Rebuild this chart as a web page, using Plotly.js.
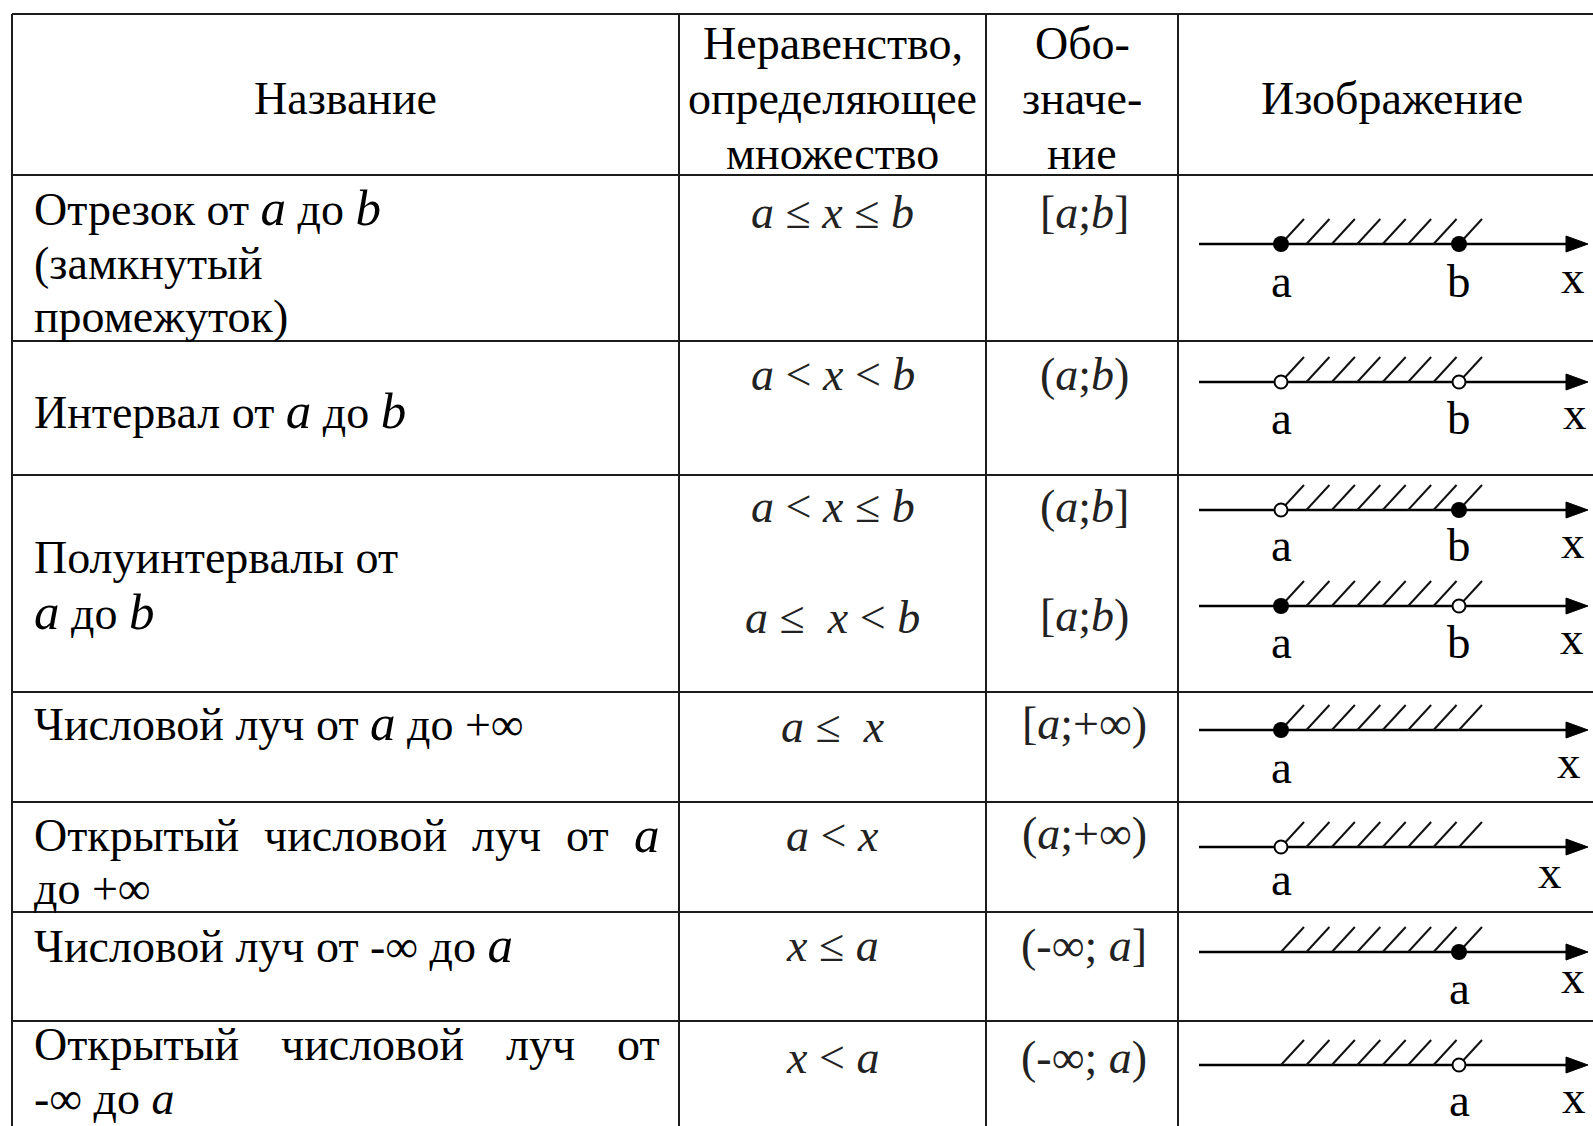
<!DOCTYPE html>
<html>
<head>
<meta charset="utf-8">
<script src="https://cdn.plot.ly/plotly-3.0.1.min.js"></script>
<style>
  html, body { margin: 0; padding: 0; background: #fff; }
  #chart { width: 1593px; height: 1126px; }
</style>
</head>
<body>
<div id="chart"></div>
<script>
// ---- table content ----
const headers = [
  ["Название"],
  ["Неравенство,", "определяющее", "множество"],
  ["Обо-", "значе-", "ние"],
  ["Изображение"]
];

const names = [
  ["Отрезок от <i>a</i> до <i>b</i>", "(замкнутый", "промежуток)"],
  ["Интервал от <i>a</i> до <i>b</i>"],
  ["Полуинтервалы от", "<i>a</i> до <i>b</i>"],
  ["Числовой луч от <i>a</i> до +∞"],
  ["Открытый числовой луч от <i>a</i>", "до +∞"],
  ["Числовой луч от -∞ до <i>a</i>"],
  ["Открытый числовой луч от", "-∞ до <i>a</i>"]
];
const nameJustified = [[false, false, false], [false], [false, false], [false], [true, false], [false], [true, false]];

const inequalities = [
  ["<i>a</i> ≤ <i>x</i> ≤ <i>b</i>"],
  ["<i>a</i> &lt; <i>x</i> &lt; <i>b</i>"],
  ["<i>a</i> &lt; <i>x</i> ≤ <i>b</i>", "<i>a</i> ≤\u00A0 <i>x</i> &lt; <i>b</i>"],
  ["<i>a</i> ≤\u00A0 <i>x</i>"],
  ["<i>a</i> &lt; <i>x</i>"],
  ["<i>x</i> ≤ <i>a</i>"],
  ["<i>x</i> &lt; <i>a</i>"]
];

const notations = [
  ["[<i>a</i>;<i>b</i>]"],
  ["(<i>a</i>;<i>b</i>)"],
  ["(<i>a</i>;<i>b</i>]", "[<i>a</i>;<i>b</i>)"],
  ["[<i>a</i>;+∞)"],
  ["(<i>a</i>;+∞)"],
  ["(-∞; <i>a</i>]"],
  ["(-∞; <i>a</i>)"]
];

// ---- number lines: point a sits at 0, point b at 1 ----
const leftPoint  = ["closed", "open", "open", "closed", "closed", "open", null, null];
const rightPoint = ["closed", "open", "closed", "open", null, null, "closed", "open"];
const leftLabel  = ["a", "a", "a", "a", "a", "a", null, null];
const rightLabel = ["b", "b", "b", "b", null, null, "a", "a"];
const hatchCount = 8;

// ---- layout (pixels) ----
const W = 1593, H = 1126;
const colX = [12, 679, 986, 1178, 1606];
const rowY = [14, 175, 341, 475, 692, 802, 912, 1021];
const headerLineY = [[98], [43, 98, 153], [43, 98, 153], [98]];
const nameLineY = [[208, 263, 316], [411], [557, 612], [723], [835, 888], [945], [1044, 1098]];
const ineqY = [[212], [374], [506, 617], [726], [835], [945], [1057]];
const notY = [[212], [374], [506, 615], [723], [833], [945], [1057]];
const textLeft = 33, textRight = 658;

const axisY = [244, 382, 510, 606, 730, 847, 952, 1065];
const abLabelDy = [37, 36, 35, 36, 37, 32, 36, 35];
const xLabelPx = [1573, 1575, 1573, 1572, 1569, 1550, 1573, 1574];
const xLabelDy = [33, 31, 32, 32, 32, 25, 25, 32];
const aPx = 1281, bPx = 1459;
const lineStartPx = 1199, arrowBasePx = 1566, arrowTipPx = 1588;
const arrowHalf = 8, hatchRise = 25, hatchLean = 23;

const FONT = '"Liberation Serif", "Times New Roman", serif';
const BODY = 46, MATH = 46, ITAL = 51, LABEL = 47;
const INK = "#000";

const unit = bPx - aPx;
const toUnit = px => (px - aPx) / unit;

// bigger italic letters, as in the source
function fmt(s, size) {
  return s.replace(/<i>(.*?)<\/i>/g, `<span style="font-size:${size}px"><i>$1</i></span>`);
}

const measureCtx = document.createElement("canvas").getContext("2d");
function textWidth(s) {
  let w = 0;
  s.split(/(<i>.*?<\/i>)/).forEach(part => {
    if (!part) return;
    const m = part.match(/^<i>(.*)<\/i>$/);
    measureCtx.font = m ? `italic ${ITAL}px "Liberation Serif"` : `${BODY}px "Liberation Serif"`;
    w += measureCtx.measureText(m ? m[1] : part).width;
  });
  return w;
}

const annotations = [];
function addText(text, x, y, extra) {
  annotations.push(Object.assign({
    x, y, xref: "x", yref: "y", text, showarrow: false,
    xanchor: "center", yanchor: "middle", borderpad: 0,
    font: { family: FONT, size: BODY, color: INK }
  }, extra));
}

// headers
headers.forEach((lines, c) => {
  const cx = (colX[c] + colX[c + 1]) / 2;
  lines.forEach((t, i) => addText(t, cx, headerLineY[c][i]));
});

// first column, left aligned or justified
names.forEach((lines, r) => {
  lines.forEach((t, i) => {
    const y = nameLineY[r][i];
    // keep the bottom line inside the page
    const italSize = y + ITAL * 0.6 > H ? BODY : ITAL;
    if (!nameJustified[r][i]) {
      addText(fmt(t, italSize), textLeft, y, { xanchor: "left" });
      return;
    }
    const words = t.split(" ");
    const widths = words.map(textWidth);
    const gap = (textRight - textLeft - widths.reduce((s, v) => s + v, 0)) / (words.length - 1);
    let x = textLeft;
    words.forEach((wd, k) => {
      addText(fmt(wd, italSize), x, y, { xanchor: "left" });
      x += widths[k] + gap;
    });
  });
});

// inequalities and notations
const mathFont = { family: FONT, size: MATH, color: "#222" };
inequalities.forEach((lines, r) => {
  lines.forEach((t, i) => addText(t, (colX[1] + colX[2]) / 2, ineqY[r][i], { font: mathFont }));
});
notations.forEach((lines, r) => {
  lines.forEach((t, i) => addText(t, (colX[2] + colX[3]) / 2 + 2, notY[r][i], { font: mathFont }));
});

// table rules
const shapes = [];
const rule = { color: "#1c1c1c", width: 2 };
rowY.forEach(y => shapes.push({ type: "line", xref: "x", yref: "y", x0: colX[0], x1: W + 5, y0: y, y1: y, line: rule }));
colX.slice(0, 4).forEach(x => shapes.push({ type: "line", xref: "x", yref: "y", x0: x, x1: x, y0: rowY[0], y1: H + 5, line: rule }));

// number lines
const traces = [];
const labelFont = { family: FONT, size: LABEL, color: INK };
axisY.forEach((y, k) => {
  const x0 = toUnit(lineStartPx), xb = toUnit(arrowBasePx), xt = toUnit(arrowTipPx);
  traces.push({
    type: "scatter", mode: "lines", xaxis: "x2", yaxis: "y",
    x: [x0, xb + 0.01], y: [y, y], line: { color: "#000", width: 2.4 }, hoverinfo: "skip"
  });
  traces.push({
    type: "scatter", mode: "lines", xaxis: "x2", yaxis: "y",
    x: [xb, xt, xb, xb], y: [y - arrowHalf, y, y + arrowHalf, y - arrowHalf],
    fill: "toself", fillcolor: "#000", line: { color: "#000", width: 1 }, hoverinfo: "skip"
  });
  const hx = [], hy = [];
  for (let i = 0; i < hatchCount; i++) {
    const xs = i / (hatchCount - 1);
    hx.push(xs, xs + hatchLean / unit, null);
    hy.push(y, y - hatchRise, null);
  }
  traces.push({
    type: "scatter", mode: "lines", xaxis: "x2", yaxis: "y",
    x: hx, y: hy, line: { color: "#111", width: 2 }, hoverinfo: "skip"
  });
  [[leftPoint[k], 0], [rightPoint[k], 1]].forEach(([kind, pos]) => {
    if (!kind) return;
    traces.push({
      type: "scatter", mode: "markers", xaxis: "x2", yaxis: "y",
      x: [pos], y: [y], hoverinfo: "skip",
      marker: kind === "closed"
        ? { size: 16, color: "#000", line: { width: 0 } }
        : { size: 13, color: "#fff", line: { color: "#000", width: 2 } }
    });
  });
  [[leftLabel[k], 0], [rightLabel[k], 1]].forEach(([lab, pos]) => {
    if (!lab) return;
    annotations.push({
      x: pos, y: y + abLabelDy[k], xref: "x2", yref: "y", text: lab, showarrow: false,
      xanchor: "center", yanchor: "middle", borderpad: 0, font: labelFont
    });
  });
  annotations.push({
    x: toUnit(xLabelPx[k]), y: y + xLabelDy[k], xref: "x2", yref: "y", text: "x", showarrow: false,
    xanchor: "center", yanchor: "middle", borderpad: 0, font: labelFont
  });
});

const hidden = { visible: false, showgrid: false, zeroline: false, fixedrange: true };

Plotly.newPlot("chart", traces, {
  width: W,
  height: H,
  margin: { l: 0, r: 0, t: 0, b: 0 },
  paper_bgcolor: "#fff",
  plot_bgcolor: "#fff",
  showlegend: false,
  xaxis: Object.assign({ range: [0, W], domain: [0, 1] }, hidden),
  xaxis2: Object.assign({ range: [toUnit(0), toUnit(W)], overlaying: "x", anchor: "y" }, hidden),
  yaxis: Object.assign({ range: [H, 0], domain: [0, 1] }, hidden),
  shapes,
  annotations
}, { displayModeBar: false, staticPlot: true });
</script>
</body>
</html>
